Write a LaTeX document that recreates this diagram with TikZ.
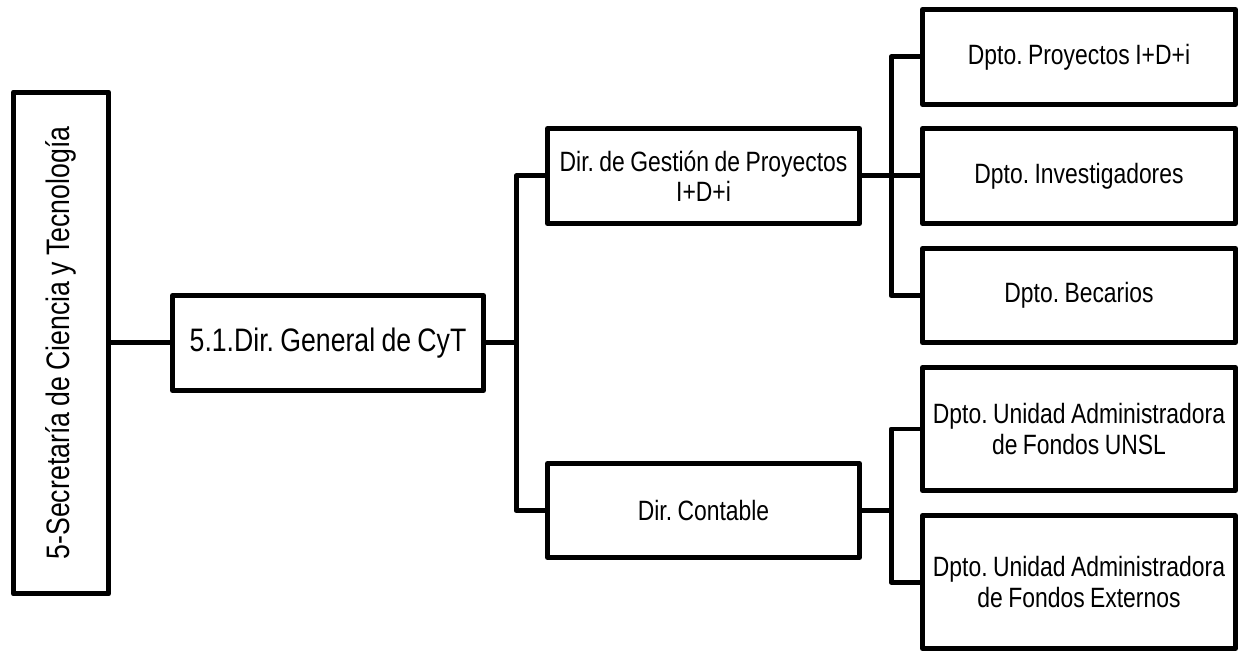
\documentclass[tikz,border=0pt]{standalone}
\usepackage{fontspec}
\setmainfont{Liberation Sans}[FakeStretch=0.82, WordSpace=0.85]
\frenchspacing

\begin{document}
\begin{tikzpicture}[x=0.02cm, y=-0.02cm,
        box/.style={draw, line width=0.1cm, line join=round, inner sep=0pt, align=center, font=\fontsize{15.9}{17.2}\selectfont},
        bigbox/.style={box, font=\fontsize{18.5}{20}\selectfont},
        link/.style={line width=0.1cm, line join=round}]
        \useasboundingbox (0,0) rectangle (1243,651);
        \node[bigbox, minimum width=1.9cm, minimum height=10.04cm] (sec) at (61,343) {\rotatebox{90}{5-Secretaría de Ciencia y Tecnología}};
        \node[bigbox, minimum width=6.22cm, minimum height=1.9cm] (gen) at (328,343) {5.1.Dir. General de CyT};
        \node[box, minimum width=6.24cm, minimum height=1.9cm] (gest) at (703.5,176) {Dir. de Gestión de Proyectos\\I+D+i};
        \node[box, minimum width=6.24cm, minimum height=1.88cm] (cont) at (703.5,510.5) {Dir. Contable};
        \node[box, minimum width=6.26cm, minimum height=1.9cm] (proy) at (1079,57) {Dpto. Proyectos I+D+i};
        \node[box, minimum width=6.26cm, minimum height=1.9cm] (inv) at (1079,176) {Dpto. Investigadores};
        \node[box, minimum width=6.26cm, minimum height=1.88cm] (bec) at (1079,295.5) {Dpto. Becarios};
        \node[box, minimum width=6.26cm, minimum height=2.46cm] (unsl) at (1079,429) {Dpto. Unidad Administradora\\de Fondos UNSL};
        \node[box, minimum width=6.26cm, minimum height=2.66cm] (ext) at (1079,582) {Dpto. Unidad Administradora\\de Fondos Externos};
        % buses
        \coordinate (busA) at (516,343);
        \coordinate (busB) at (891,176);
        \coordinate (busC) at (891,510.5);
        \draw[link] (sec.east) -- (gen.west);
        \draw[link] (gen.east) -- (busA);
        \draw[link] (gest.west) -| (busA) |- (cont.west);
        \draw[link] (gest.east) -- (busB) -- (inv.west);
        \draw[link] (proy.west) -| (busB) |- (bec.west);
        \draw[link] (cont.east) -- (busC);
        \draw[link] (unsl.west) -| (busC) |- (ext.west);
    \end{tikzpicture}
\end{document}
